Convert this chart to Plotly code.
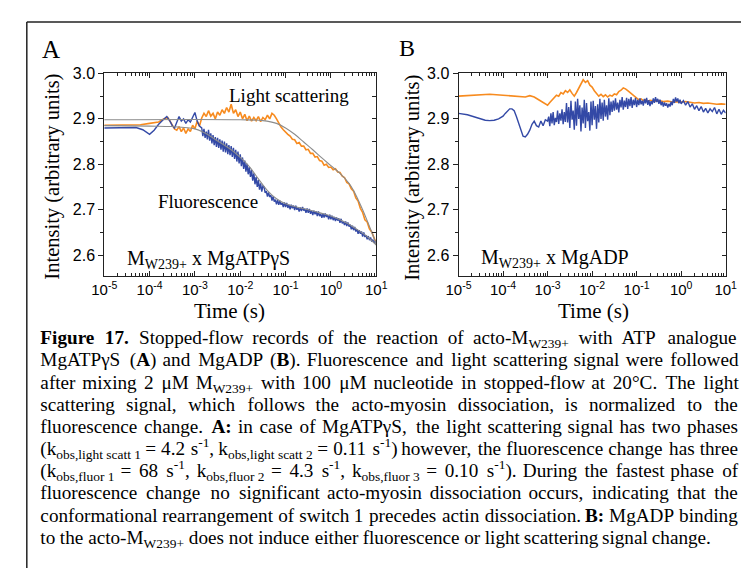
import plotly.graph_objects as go

W, H = 749, 568

# ---------------- data (log10 of time in s, intensity) ----------------
# Panel A: light scattering (orange)
A_ls_exp = [-5.0, -4.7, -4.4, -4.2, -4.0, -3.9, -3.8, -3.7, -3.6, -3.55, -3.5, -3.45, -3.4, -3.35,
            -3.3, -3.25, -3.2, -3.15, -3.1, -3.05, -3.0, -2.95, -2.9, -2.85, -2.8, -2.75, -2.7, -2.65,
            -2.6, -2.55, -2.5, -2.45, -2.4, -2.35, -2.3, -2.25, -2.2, -2.15, -2.1, -2.05, -2.0, -1.95,
            -1.9, -1.85, -1.8, -1.75, -1.7, -1.65, -1.6, -1.55, -1.5, -1.45, -1.4, -1.35, -1.3, -1.25,
            -1.2, -1.15, -1.1, -1.05, -1.0, -0.95, -0.9, -0.85, -0.8, -0.75, -0.7, -0.65, -0.6, -0.55,
            -0.5, -0.45, -0.4, -0.35, -0.3, -0.25, -0.2, -0.15, -0.1, -0.05, 0.0, 0.05, 0.1, 0.15,
            0.2, 0.25, 0.3, 0.35, 0.4, 0.45, 0.5, 0.55, 0.6, 0.65, 0.7, 0.75, 0.8, 0.85, 0.9, 0.95, 1.0]
A_ls_val = [2.886, 2.886, 2.886, 2.887, 2.890, 2.891, 2.893, 2.899, 2.903, 2.895, 2.885, 2.878, 2.875, 2.883,
            2.872, 2.880, 2.868, 2.878, 2.872, 2.886, 2.878, 2.895, 2.884, 2.902, 2.912, 2.905, 2.918, 2.906,
            2.912, 2.900, 2.915, 2.908, 2.920, 2.912, 2.925, 2.915, 2.932, 2.912, 2.920, 2.905, 2.915, 2.900,
            2.910, 2.896, 2.906, 2.895, 2.903, 2.896, 2.905, 2.894, 2.903, 2.898, 2.908, 2.900, 2.912, 2.908,
            2.900, 2.890, 2.882, 2.876, 2.870, 2.866, 2.862, 2.855, 2.854, 2.846, 2.848, 2.840, 2.840, 2.832,
            2.833, 2.824, 2.824, 2.816, 2.817, 2.808, 2.807, 2.798, 2.800, 2.793, 2.794, 2.788, 2.790, 2.783,
            2.782, 2.774, 2.771, 2.760, 2.757, 2.746, 2.741, 2.726, 2.719, 2.703, 2.694, 2.678, 2.673, 2.658,
            2.651, 2.636, 2.626]

# Panel A: fluorescence (blue)
A_fl_exp = [-5.0, -4.6, -4.3, -4.15, -4.0, -3.9, -3.8, -3.7, -3.62, -3.55, -3.5, -3.45, -3.4, -3.35,
            -3.3, -3.25, -3.2, -3.15, -3.1, -3.05, -3.0, -2.95, -2.9,
            -2.850, -2.825, -2.800, -2.775, -2.750, -2.725, -2.700, -2.675, -2.650, -2.625, -2.600,
            -2.575, -2.550, -2.525, -2.500, -2.475, -2.450, -2.425, -2.400, -2.375, -2.350, -2.325,
            -2.300, -2.275, -2.250, -2.225, -2.200, -2.175, -2.150, -2.125, -2.100, -2.075, -2.050,
            -2.025, -2.000, -1.975, -1.950, -1.925, -1.900, -1.875, -1.850, -1.825, -1.800, -1.775,
            -1.750, -1.725, -1.700, -1.675, -1.650, -1.625, -1.600, -1.575, -1.550, -1.525, -1.500,
            -1.475, -1.450, -1.425, -1.400, -1.375, -1.350, -1.325, -1.300, -1.275, -1.250, -1.225,
            -1.200, -1.175, -1.150, -1.125, -1.100, -1.075, -1.050, -1.025, -1.000, -0.975, -0.950,
            -0.925, -0.900, -0.875, -0.850, -0.825, -0.800, -0.775, -0.750, -0.725, -0.700, -0.675,
            -0.650, -0.625, -0.600, -0.575, -0.550, -0.525, -0.500, -0.475, -0.450, -0.425, -0.400,
            -0.375, -0.350, -0.325, -0.300, -0.275, -0.250, -0.225, -0.200, -0.175, -0.150, -0.125,
            -0.100, -0.075, -0.050, -0.025, 0.000, 0.025, 0.050, 0.075, 0.100, 0.125, 0.150, 0.175,
            0.200, 0.225, 0.250, 0.275, 0.300, 0.325, 0.350, 0.375, 0.400, 0.425, 0.450, 0.475, 0.500,
            0.525, 0.550, 0.575, 0.600, 0.625, 0.650, 0.675, 0.700, 0.725, 0.750, 0.775, 0.800, 0.825,
            0.850, 0.875, 0.900, 0.925, 0.950, 0.975, 1.000]
A_fl_val = [2.880, 2.880, 2.881, 2.876, 2.866, 2.875, 2.888, 2.898, 2.905, 2.895, 2.885, 2.880, 2.892, 2.905,
            2.895, 2.900, 2.890, 2.898, 2.893, 2.905, 2.914, 2.895, 2.884,
            2.880, 2.862, 2.878, 2.858, 2.872, 2.855, 2.876, 2.852, 2.868, 2.846, 2.864,
            2.842, 2.860, 2.838, 2.858, 2.836, 2.855, 2.832, 2.852, 2.828, 2.850, 2.826,
            2.846, 2.822, 2.842, 2.820, 2.840, 2.816, 2.836, 2.812, 2.832, 2.806, 2.828,
            2.802, 2.822, 2.796, 2.815, 2.790, 2.808, 2.784, 2.801, 2.778, 2.794, 2.772,
            2.787, 2.764, 2.780, 2.756, 2.772, 2.750, 2.765, 2.744, 2.758, 2.740, 2.752,
            2.750, 2.737, 2.741, 2.729, 2.738, 2.728, 2.732, 2.720, 2.729, 2.718, 2.722,
            2.712, 2.721, 2.711, 2.720, 2.711, 2.715, 2.706, 2.716, 2.706, 2.715, 2.704,
            2.711, 2.701, 2.711, 2.703, 2.709, 2.699, 2.709, 2.700, 2.704, 2.696, 2.705,
            2.697, 2.706, 2.698, 2.702, 2.693, 2.703, 2.693, 2.702, 2.691, 2.698, 2.688,
            2.698, 2.690, 2.696, 2.686, 2.696, 2.686, 2.691, 2.682, 2.691, 2.683, 2.692,
            2.684, 2.688, 2.679, 2.689, 2.679, 2.687, 2.677, 2.684, 2.675, 2.683, 2.676, 2.681,
            2.671, 2.680, 2.670, 2.674, 2.666, 2.674, 2.664, 2.672, 2.663, 2.667, 2.657, 2.665, 2.655,
            2.662, 2.652, 2.657, 2.647, 2.655, 2.647, 2.652, 2.641, 2.650, 2.640, 2.644, 2.635, 2.642,
            2.633, 2.639, 2.630, 2.634, 2.627, 2.630, 2.625]

# Panel A: fitted curves (grey)
A_ls_fit_exp = [-5.0, -2.0, -1.5, -1.2, -1.0, -0.8, -0.6, -0.4, -0.2, 0.0, 0.2, 0.4, 0.5, 0.6, 0.7, 0.8, 0.9, 1.0]
A_ls_fit_val = [2.898, 2.898, 2.896, 2.890, 2.880, 2.866, 2.849, 2.832, 2.814, 2.797, 2.780, 2.758, 2.742,
                2.722, 2.700, 2.676, 2.651, 2.624]
A_fl_fit_exp = [-5.0, -4.0, -3.5, -3.0, -2.8, -2.6, -2.4, -2.2, -2.0, -1.8, -1.6, -1.4, -1.2, -1.0, -0.8,
                -0.5, -0.2, 0.0, 0.2, 0.4, 0.6, 0.8, 1.0]
A_fl_fit_val = [2.885, 2.884, 2.883, 2.878, 2.870, 2.858, 2.845, 2.832, 2.815, 2.795, 2.768, 2.742, 2.724,
                2.713, 2.707, 2.700, 2.692, 2.686, 2.678, 2.668, 2.655, 2.641, 2.622]

# Panel B: light scattering (orange)
B_ls_exp = [-5.0, -4.5, -4.3, -4.0, -3.8, -3.6, -3.5, -3.4, -3.3, -3.2, -3.1, -3.0, -2.95, -2.9, -2.85,
            -2.8, -2.75, -2.7, -2.65, -2.6, -2.55, -2.5, -2.45, -2.4, -2.35, -2.3, -2.25, -2.2, -2.15,
            -2.1, -2.05, -2.0, -1.95, -1.9, -1.85, -1.8, -1.75, -1.7, -1.65, -1.6, -1.55, -1.5, -1.45,
            -1.4, -1.35, -1.3, -1.25, -1.2, -1.15, -1.1, -1.05, -1.0, -0.95, -0.9, -0.85, -0.8, -0.75,
            -0.7, -0.6, -0.5, -0.4, -0.3, -0.2, -0.1, 0.0, 0.1, 0.2, 0.3, 0.4, 0.5, 0.6, 0.7, 0.8, 0.9, 1.0]
B_ls_val = [2.950, 2.952, 2.954, 2.952, 2.951, 2.950, 2.948, 2.951, 2.948, 2.942, 2.936, 2.930, 2.936,
            2.942, 2.947, 2.952, 2.950, 2.958, 2.955, 2.962, 2.958, 2.964, 2.956, 2.950, 2.958, 2.968,
            2.978, 2.986, 2.980, 2.984, 2.974, 2.970, 2.962, 2.956, 2.950, 2.954, 2.949, 2.953, 2.948,
            2.952, 2.950, 2.955, 2.953, 2.960, 2.963, 2.968, 2.966, 2.962, 2.958, 2.952, 2.948, 2.945,
            2.942, 2.944, 2.940, 2.942, 2.939, 2.941, 2.939, 2.940, 2.938, 2.939, 2.937, 2.938, 2.937,
            2.938, 2.936, 2.935, 2.936, 2.934, 2.935, 2.933, 2.932, 2.933, 2.932]

# Panel B: fluorescence (blue)
B_fl_exp = [-5.0, -4.8, -4.6, -4.4, -4.3, -4.2, -4.1, -4.0, -3.95, -3.9, -3.85, -3.8, -3.75, -3.7, -3.65,
            -3.6, -3.55, -3.5, -3.45, -3.4, -3.35, -3.3, -3.25, -3.2, -3.15, -3.1, -3.05, -3.0,
            -2.975, -2.950, -2.925, -2.900, -2.875, -2.850, -2.825, -2.800, -2.775, -2.750, -2.725,
            -2.700, -2.675, -2.650, -2.625, -2.600,
            -2.575, -2.550, -2.525, -2.500, -2.475, -2.450, -2.425, -2.400, -2.375, -2.350, -2.325,
            -2.300, -2.275, -2.250, -2.225, -2.200, -2.175, -2.150, -2.125, -2.100, -2.075, -2.050,
            -2.025, -2.000, -1.975, -1.950, -1.925, -1.900, -1.875, -1.850, -1.825, -1.800, -1.775,
            -1.750, -1.725, -1.700, -1.675, -1.650, -1.625, -1.600,
            -1.575, -1.550, -1.525, -1.500, -1.475, -1.450, -1.425, -1.400, -1.375, -1.350, -1.325,
            -1.300, -1.275, -1.250, -1.225, -1.200, -1.175, -1.150, -1.125, -1.100, -1.075, -1.050,
            -1.025, -1.000,
            -0.975, -0.950, -0.925, -0.900, -0.875, -0.850, -0.825, -0.800, -0.775, -0.750, -0.725,
            -0.700, -0.675, -0.650, -0.625, -0.600, -0.575, -0.550, -0.525, -0.500, -0.475, -0.450,
            -0.425, -0.400, -0.375, -0.350, -0.325, -0.300, -0.275, -0.250, -0.225, -0.200, -0.175,
            -0.150, -0.125, -0.100, -0.075, -0.050, -0.025, 0.000,
            0.05, 0.10, 0.15, 0.20, 0.25, 0.30, 0.35, 0.40, 0.45, 0.50, 0.55, 0.60, 0.65, 0.70, 0.75,
            0.80, 0.85, 0.90, 0.95, 1.00]
B_fl_val = [2.912, 2.909, 2.903, 2.897, 2.896, 2.897, 2.900, 2.906, 2.912, 2.918, 2.922, 2.922, 2.918,
            2.905, 2.890, 2.872, 2.862, 2.860, 2.866, 2.875, 2.888, 2.895, 2.885, 2.882, 2.895, 2.885,
            2.898, 2.895,
            2.905, 2.884, 2.912, 2.890, 2.915, 2.886, 2.902, 2.893, 2.918, 2.889, 2.912,
            2.896, 2.921, 2.888, 2.915, 2.893,
            2.935, 2.892, 2.926, 2.880, 2.940, 2.898, 2.918, 2.876, 2.938, 2.885, 2.944,
            2.900, 2.930, 2.872, 2.925, 2.890, 2.942, 2.880, 2.935, 2.895, 2.915, 2.874,
            2.938, 2.886, 2.940, 2.898, 2.928, 2.878, 2.932, 2.892, 2.944, 2.900, 2.936,
            2.896, 2.942, 2.905, 2.930, 2.898, 2.945, 2.908,
            2.938, 2.915, 2.940, 2.918, 2.945, 2.920, 2.936, 2.914, 2.942, 2.925, 2.948,
            2.920, 2.940, 2.926, 2.946, 2.922, 2.944, 2.928, 2.948, 2.924, 2.942, 2.930,
            2.946, 2.926,
            2.942, 2.930, 2.945, 2.932, 2.940, 2.929, 2.944, 2.934, 2.946, 2.931, 2.941,
            2.928, 2.939, 2.932, 2.945, 2.935, 2.948, 2.937, 2.944, 2.933, 2.942, 2.930,
            2.938, 2.927, 2.936, 2.929, 2.934, 2.925, 2.933, 2.927, 2.938, 2.930, 2.944,
            2.935, 2.947, 2.938, 2.945, 2.934, 2.942, 2.933,
            2.940, 2.930, 2.938, 2.926, 2.933, 2.921, 2.929, 2.918, 2.927, 2.915, 2.923, 2.913, 2.922,
            2.916, 2.925, 2.911, 2.921, 2.910, 2.919, 2.913]

X_DECADES = [-5, -4, -3, -2, -1, 0, 1]
X_TICKTEXT = ["10<sup>-5</sup>", "10<sup>-4</sup>", "10<sup>-3</sup>", "10<sup>-2</sup>",
              "10<sup>-1</sup>", "10<sup>0</sup>", "10<sup>1</sup>"]
Y_TICKVALS = [2.6, 2.7, 2.8, 2.9, 3.0]
Y_TICKTEXT = ["2.6", "2.7", "2.8", "2.9", "3.0"]

CAPTION = [
    "<b>Figure</b> <b>17.</b> Stopped-flow records of the reaction of acto-M<sub>W239+</sub> with ATP analogue",
    "MgATPγS (<b>A</b>) and MgADP (<b>B</b>). Fluorescence and light scattering signal were followed",
    "after mixing 2 μM M<sub>W239+</sub> with 100 μM nucleotide in stopped-flow at 20°C. The light",
    "scattering signal, which follows the acto-myosin dissociation, is normalized to the",
    "fluorescence change. <b>A:</b> in case of MgATPγS, the light scattering signal has two phases",
    "(k<sub>obs,light~scatt~1</sub> = 4.2 s<sup>-1</sup>, k<sub>obs,light~scatt~2</sub> = 0.11 s<sup>-1</sup>) however, the fluorescence change has three",
    "(k<sub>obs,fluor~1</sub> = 68 s<sup>-1</sup>, k<sub>obs,fluor~2</sub> = 4.3 s<sup>-1</sup>, k<sub>obs,fluor~3</sub> = 0.10 s<sup>-1</sup>). During the fastest phase of",
    "fluorescence change no significant acto-myosin dissociation occurs, indicating that the",
    "conformational rearrangement of switch 1 precedes actin dissociation. <b>B:</b> MgADP binding",
    "to the acto-M<sub>W239+</sub> does not induce either fluorescence or light scattering signal change.",
]

# ---------------- styling ----------------
ORANGE = "#F78B1F"
BLUE = "#3349A6"
GREY = "#8C8C8C"
SERIF = "Liberation Serif"
SANS = "Liberation Sans"

CAP_SIZE = 19.2
CAP_LEFT, CAP_RIGHT = 20.0, 740.5
CAP_TOP, CAP_STEP = 328.0, 22.5

# Times-Roman advance widths (1/1000 em)
TIMES = {' ': 250, '(': 333, ')': 333, ',': 250, '.': 250, '-': 333, '=': 564, '+': 564, ':': 278,
         '°': 400, 'γ': 470, 'μ': 520}
TIMES.update({c: 500 for c in "0123456789"})
TIMES.update(dict(zip("abcdefghijklmnopqrstuvwxyz",
                      [444, 500, 444, 500, 444, 333, 500, 500, 278, 278, 500, 278, 778, 500, 500, 500, 500,
                       333, 389, 278, 500, 500, 722, 500, 500, 444])))
TIMES.update(dict(zip("ABCDEFGHIJKLMNOPQRSTUVWXYZ",
                      [722, 667, 667, 722, 611, 556, 722, 722, 333, 389, 722, 611, 889, 722, 722, 556, 722,
                       667, 556, 611, 722, 722, 944, 722, 722, 611])))
TIMES_B = {'F': 611, 'i': 278, 'g': 500, 'u': 556, 'r': 444, 'e': 444, '1': 500, '7': 500, '.': 250,
           'A': 722, 'B': 667, ':': 333}


def token_width(tok, size):
    """Estimated rendered width (px) of a rich-text token, glyph advances rounded to pixels."""
    w, bold, scale, i = 0.0, False, 1.0, 0
    while i < len(tok):
        if tok[i] == '<':
            j = tok.index('>', i)
            tag = tok[i + 1:j]
            if tag == 'b':
                bold = True
            elif tag == '/b':
                bold = False
            elif tag in ('sub', 'sup'):
                scale = 0.7
            elif tag in ('/sub', '/sup'):
                scale = 1.0
            i = j + 1
            continue
        ch = ' ' if tok[i] == '~' else tok[i]
        tab = TIMES_B if bold else TIMES
        adv = tab.get(ch, TIMES.get(ch, 500)) * size * scale / 1000.0
        w += max(round(adv), 1)
        i += 1
    return w * 1.01


fig = go.Figure()

# panel A traces
fig.add_trace(go.Scatter(x=[10 ** e for e in A_ls_exp], y=A_ls_val, mode="lines",
                         line=dict(color=ORANGE, width=1.6), xaxis="x", yaxis="y", hoverinfo="skip"))
fig.add_trace(go.Scatter(x=[10 ** e for e in A_fl_exp], y=A_fl_val, mode="lines",
                         line=dict(color=BLUE, width=1.4), xaxis="x", yaxis="y", hoverinfo="skip"))
fig.add_trace(go.Scatter(x=[10 ** e for e in A_ls_fit_exp], y=A_ls_fit_val, mode="lines",
                         line=dict(color=GREY, width=1.1, shape="spline"), xaxis="x", yaxis="y", hoverinfo="skip"))
fig.add_trace(go.Scatter(x=[10 ** e for e in A_fl_fit_exp], y=A_fl_fit_val, mode="lines",
                         line=dict(color=GREY, width=1.1, shape="spline"), xaxis="x", yaxis="y", hoverinfo="skip"))
# panel B traces
fig.add_trace(go.Scatter(x=[10 ** e for e in B_ls_exp], y=B_ls_val, mode="lines",
                         line=dict(color=ORANGE, width=1.6), xaxis="x2", yaxis="y2", hoverinfo="skip"))
fig.add_trace(go.Scatter(x=[10 ** e for e in B_fl_exp], y=B_fl_val, mode="lines",
                         line=dict(color=BLUE, width=1.4), xaxis="x2", yaxis="y2", hoverinfo="skip"))
# empty traces to register right-side tick axes
fig.add_trace(go.Scatter(x=[], y=[], xaxis="x", yaxis="y3", showlegend=False))
fig.add_trace(go.Scatter(x=[], y=[], xaxis="x2", yaxis="y4", showlegend=False))

# caption, justified word by word on a full-figure pixel layer
for li, line in enumerate(CAPTION):
    toks = line.split(' ')
    widths = [token_width(t, CAP_SIZE) for t in toks]
    last = li == len(CAPTION) - 1
    if last or len(toks) < 2:
        gap = 5.0
    else:
        gap = (CAP_RIGHT - CAP_LEFT - sum(widths)) / (len(toks) - 1)
    xs, x = [], CAP_LEFT
    for w in widths:
        xs.append(x)
        x += w + gap
    fig.add_trace(go.Scatter(
        x=xs, y=[CAP_TOP + li * CAP_STEP] * len(toks), mode="text",
        text=[t.replace('~', ' ') for t in toks], textposition="middle right",
        textfont=dict(family=SERIF, size=CAP_SIZE, color="black"),
        xaxis="x5", yaxis="y5", hoverinfo="skip", cliponaxis=False))

minor_x = [k * 10 ** d for d in range(-5, 1) for k in range(2, 10)]
minor_y = [2.55, 2.65, 2.75, 2.85, 2.95]
all_y = [2.55, 2.6, 2.65, 2.7, 2.75, 2.8, 2.85, 2.9, 2.95, 3.0]

YR = [2.5535, 3.0005]
ydom = [(H - 264.0) / H, (H - 58.0) / H]


def xax(dom):
    return dict(domain=dom, type="log", range=[-5, 1], tickvals=[10 ** d for d in X_DECADES],
                ticktext=X_TICKTEXT, ticks="inside", ticklen=5, tickwidth=1, tickcolor="#222",
                mirror="ticks", showline=True, linecolor="#222", linewidth=1, showgrid=False,
                zeroline=False, tickfont=dict(family=SANS, size=15, color="black"),
                minor=dict(tickvals=minor_x, ticks="inside", ticklen=3, tickcolor="#222", showgrid=False))


def yax(anchor):
    return dict(domain=ydom, range=YR, anchor=anchor, tickvals=Y_TICKVALS, ticktext=Y_TICKTEXT,
                ticks="outside", ticklen=5, tickwidth=1, tickcolor="#222", mirror=True, showline=True,
                linecolor="#222", linewidth=1, showgrid=False, zeroline=False,
                tickfont=dict(family=SANS, size=16, color="black"),
                minor=dict(tickvals=minor_y, ticks="outside", ticklen=3, tickcolor="#222", showgrid=False))


def yright(over, anchor):
    return dict(domain=ydom, range=YR, overlaying=over, anchor=anchor, side="right", tickvals=all_y,
                ticks="inside", ticklen=4, tickcolor="#222", showticklabels=False, showline=False,
                showgrid=False, zeroline=False)


def P(x, y):
    return x / W, 1 - y / H


annots = []


def ann(text, x, y, size, family=SERIF, xanchor="center", angle=0):
    px, py = P(x, y)
    annots.append(dict(text=text, x=px, y=py, xref="paper", yref="paper", showarrow=False,
                       xanchor=xanchor, yanchor="middle", textangle=angle,
                       font=dict(family=family, size=size, color="black")))


ann("A", 31.5, 33.5, 25)
ann("B", 399, 32, 24)
ann("Intensity (arbitrary units)", 33, 163, 20.5, angle=-90)
ann("Intensity (arbitrary units)", 405, 164, 20.5, angle=-90)
ann("Time (s)", 215, 299, 21)
ann("Time (s)", 591.5, 299, 21)
ann("Light scattering", 276.5, 80.5, 19)
ann("Fluorescence", 193, 188.5, 19)
ann("M<sub>W239+</sub> x MgATPγS", 107, 247, 20, xanchor="left")
ann("M<sub>W239+</sub> x MgADP", 473.5, 246, 20, xanchor="left")

fx0, fy0 = P(6, 6)
shapes = [
    dict(type="line", xref="paper", yref="paper", x0=fx0, y0=fy0, x1=1, y1=fy0,
         line=dict(color="#222", width=1.5)),
    dict(type="line", xref="paper", yref="paper", x0=fx0, y0=fy0, x1=fx0, y1=0,
         line=dict(color="#222", width=1.5)),
]

fig.update_layout(
    width=W, height=H, margin=dict(l=0, r=0, t=0, b=0),
    paper_bgcolor="white", plot_bgcolor="rgba(0,0,0,0)", showlegend=False,
    xaxis=dict(anchor="y", **xax([86.0 / W, 367.0 / W])),
    yaxis=yax("x"),
    xaxis2=dict(anchor="y2", **xax([452.0 / W, 728.0 / W])),
    yaxis2=yax("x2"),
    yaxis3=yright("y", "x"),
    yaxis4=yright("y2", "x2"),
    xaxis5=dict(domain=[0, 1], range=[0, W], anchor="y5", visible=False, fixedrange=True),
    yaxis5=dict(domain=[0, 1], range=[H, 0], anchor="x5", visible=False, fixedrange=True),
    annotations=annots, shapes=shapes,
)

fig.write_html("out.html")
